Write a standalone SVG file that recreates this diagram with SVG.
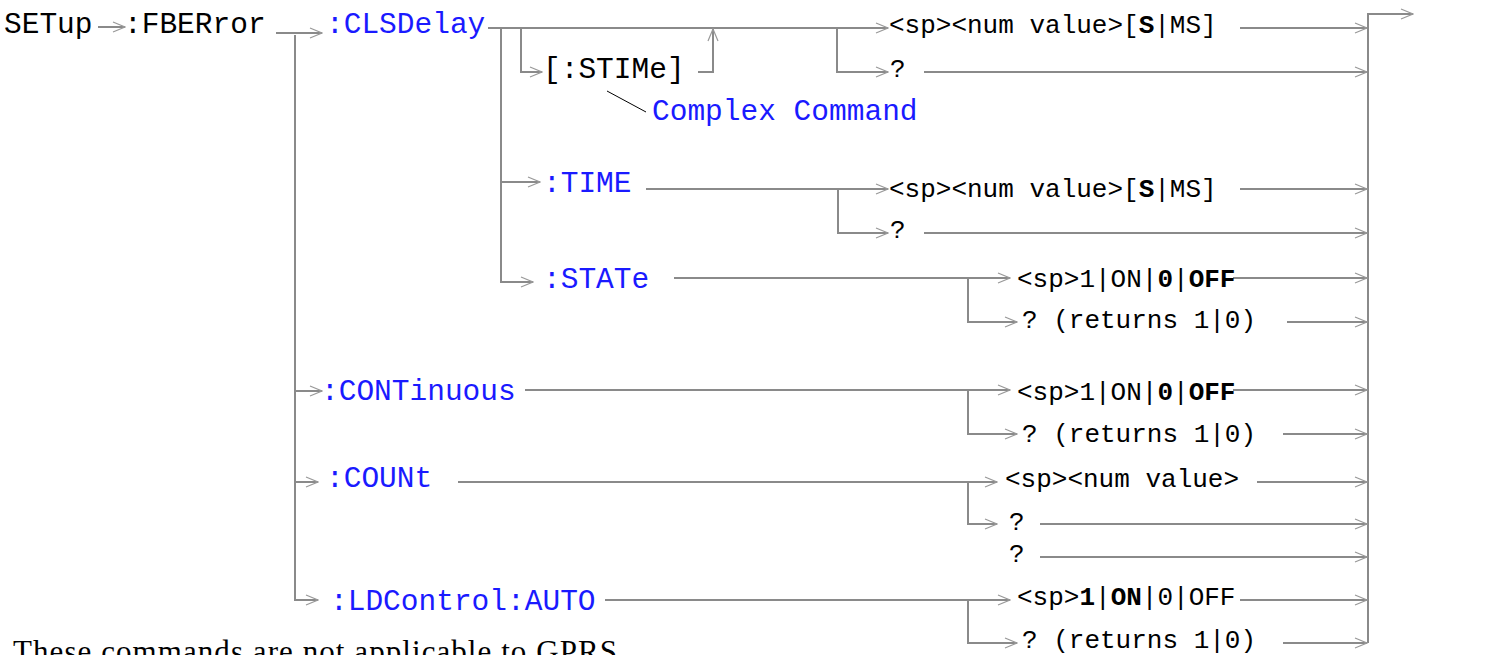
<svg xmlns="http://www.w3.org/2000/svg" width="1490" height="655" viewBox="0 0 1490 655">
<style>
text{font-family:"Liberation Mono","Courier New",monospace;}
.k{fill:#000;font-size:29.5px;}
.b{fill:#1a1aff;font-size:29.5px;}
.r{fill:#000;font-size:26px;}
.bd{font-weight:bold;}
.c path{fill:none;stroke:#8a8a8a;stroke-width:2;}
.c path.m{marker-end:url(#a);}
.note{fill:#000;font-family:"Liberation Serif","Times New Roman",serif;font-size:31px;}
</style>
<defs>
<marker id="a" markerWidth="14" markerHeight="12" refX="13" refY="6" orient="auto" markerUnits="userSpaceOnUse">
<path d="M1,1 L13,6 L1,11" fill="none" stroke="#999" stroke-width="1.2"/>
</marker>
</defs>
<g class="c" id="connectors">
<path class="m" d="M98,27 H125"/>
<path class="m" d="M276,33 H322"/>
<path class="m" d="M295,35 V600 H318"/>
<path class="m" d="M295,391 H322"/>
<path class="m" d="M295,482 H318"/>
<path class="m" d="M488,28 H888"/>
<path class="m" d="M501,28 V282 H533"/>
<path class="m" d="M501,182 H540"/>
<path class="m" d="M521,28 V72 H542"/>
<path class="m" d="M698,72 H713 V29"/>
<path class="m" d="M837,28 V72 H888"/>
<path class="m" d="M1240,28 H1367"/>
<path class="m" d="M924,72 H1367"/>
<path class="m" d="M1368,643 V14 H1413"/>
<path class="m" d="M646,189 H888"/>
<path class="m" d="M838,189 V233 H888"/>
<path class="m" d="M1240,189 H1367"/>
<path class="m" d="M924,233 H1367"/>
<path class="m" d="M674,278 H1010"/>
<path class="m" d="M968,278 V322 H1017"/>
<path class="m" d="M1233,278 H1367"/>
<path class="m" d="M1287,322 H1367"/>
<path class="m" d="M525,390 H1010"/>
<path class="m" d="M968,390 V434 H1017"/>
<path class="m" d="M1233,390 H1367"/>
<path class="m" d="M1283,434 H1367"/>
<path class="m" d="M458,482 H997"/>
<path class="m" d="M968,482 V524 H997"/>
<path class="m" d="M1257,482 H1367"/>
<path class="m" d="M1040,524 H1367"/>
<path class="m" d="M1040,557 H1367"/>
<path class="m" d="M605,600 H1010"/>
<path class="m" d="M968,600 V643 H1017"/>
<path class="m" d="M1240,600 H1367"/>
<path class="m" d="M1283,643 H1367"/>
<path d="M607,91 L646,112" style="stroke:#000;stroke-width:1"/>
</g>
<g id="setup"><text class="k" x="4" y="33">SETup</text></g>
<g id="fberror"><text class="k" x="124" y="33">:FBERror</text></g>
<g id="clsdelay"><text class="b" x="326" y="33">:CLSDelay</text></g>
<g id="stime"><text class="k" x="543" y="78">[:STIMe]</text></g>
<g id="complex"><text class="b" x="652" y="120">Complex Command</text></g>
<g id="cls-num"><text class="r" x="889" y="33">&lt;sp&gt;&lt;num value&gt;[<tspan class="bd">S</tspan>|MS]</text></g>
<g id="cls-q"><text class="r" x="890" y="77">?</text></g>
<g id="time"><text class="b" x="543" y="192">:TIME</text></g>
<g id="time-num"><text class="r" x="889" y="197">&lt;sp&gt;&lt;num value&gt;[<tspan class="bd">S</tspan>|MS]</text></g>
<g id="time-q"><text class="r" x="890" y="238">?</text></g>
<g id="state"><text class="b" x="543" y="288">:STATe</text></g>
<g id="state-val"><text class="r" x="1017" y="287">&lt;sp&gt;1|ON|<tspan class="bd">0</tspan>|<tspan class="bd">OFF</tspan></text></g>
<g id="state-q"><text class="r" x="1022" y="328">? (returns 1|0)</text></g>
<g id="continuous"><text class="b" x="321" y="400">:CONTinuous</text></g>
<g id="cont-val"><text class="r" x="1017" y="400">&lt;sp&gt;1|ON|<tspan class="bd">0</tspan>|<tspan class="bd">OFF</tspan></text></g>
<g id="cont-q"><text class="r" x="1022" y="442">? (returns 1|0)</text></g>
<g id="count"><text class="b" x="326" y="487">:COUNt</text></g>
<g id="count-num"><text class="r" x="1005" y="487">&lt;sp&gt;&lt;num value&gt;</text></g>
<g id="count-q1"><text class="r" x="1009" y="530">?</text></g>
<g id="count-q2"><text class="r" x="1009" y="562">?</text></g>
<g id="ldcontrol"><text class="b" x="330" y="610">:LDControl:AUTO</text></g>
<g id="ld-val"><text class="r" x="1017" y="605">&lt;sp&gt;<tspan class="bd">1</tspan>|<tspan class="bd">ON</tspan>|0|OFF</text></g>
<g id="ld-q"><text class="r" x="1022" y="648">? (returns 1|0)</text></g>
<g id="footnote"><text class="note" x="13" y="662" textLength="604" lengthAdjust="spacing">These commands are not applicable to GPRS</text></g>
</svg>
